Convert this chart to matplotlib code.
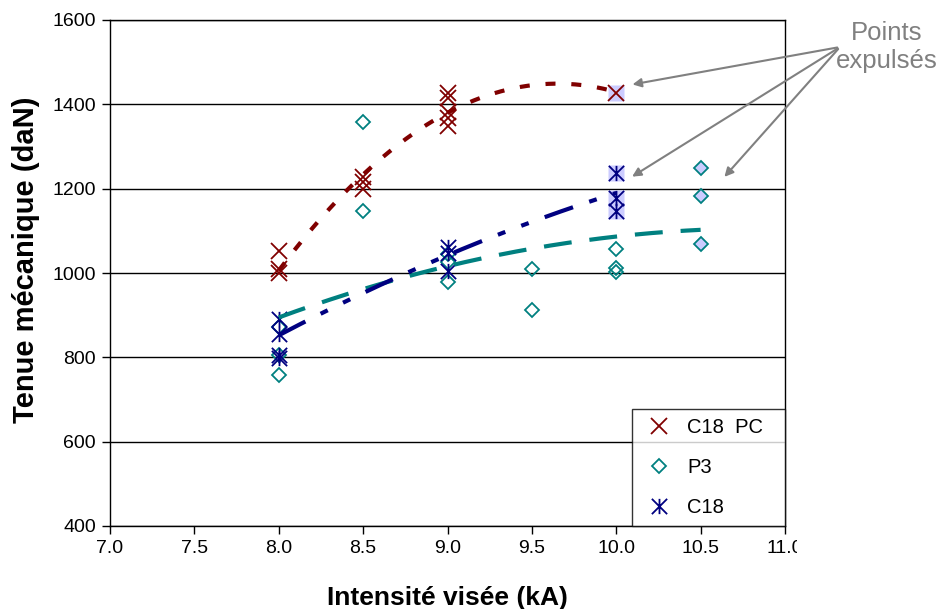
import numpy as np
import matplotlib.pyplot as plt
from matplotlib.path import Path
from matplotlib.transforms import Bbox, TransformedBbox

plt.rcParams['font.family'] = ['Liberation Sans', 'DejaVu Sans']

# C18 PC (croix rouges)
pc_x = [8.0, 8.0, 8.0, 8.5, 8.5, 8.5, 9.0, 9.0, 9.0, 9.0, 9.0]
pc_y = [1053, 1010, 1000, 1228, 1215, 1200, 1426, 1415, 1382, 1368, 1349]
pc_exp_x = [10.0]
pc_exp_y = [1426]

# P3 (losanges)
p3_x = [8.0, 8.0, 8.0, 8.5, 8.5, 9.0, 9.0, 9.0, 9.5, 9.5, 10.0, 10.0, 10.0]
p3_y = [872, 805, 758, 1359, 1147, 1045, 1027, 979, 1009, 912, 1058, 1011, 1003]
p3_exp_x = [10.5, 10.5, 10.5]
p3_exp_y = [1248, 1183, 1069]

# C18 (asterisques)
c18_x = [8.0, 8.0, 8.0, 8.0, 9.0, 9.0, 9.0]
c18_y = [890, 855, 805, 798, 1062, 1048, 1005]
c18_exp_x = [10.0, 10.0, 10.0]
c18_exp_y = [1236, 1177, 1148]

# courbes de tendance
tr_pc_x = [8.0, 8.5, 9.0, 9.5, 10.0]
tr_pc_y = [1005, 1235, 1380, 1444, 1430]
tr_p3_x = [8.0, 8.5, 9.0, 9.5, 10.0, 10.5]
tr_p3_y = [896, 960, 1014, 1060, 1088, 1101]
tr_c18_x = [8.0, 8.5, 9.0, 9.5, 10.0]
tr_c18_y = [853, 950, 1045, 1120, 1190]

red = '#800000'
teal = '#008080'
navy = '#000080'
lav = '#ccccff'

# asterisque : verticale + croix
star = Path([(0, -1), (0, 1), (-1, -1), (1, 1), (-1, 1), (1, -1)],
            [Path.MOVETO, Path.LINETO, Path.MOVETO, Path.LINETO, Path.MOVETO, Path.LINETO])

fig = plt.figure(figsize=(9.42, 6.09), dpi=100)
ax = fig.add_axes([110/942, 83/609, 675/942, 506/609])

# fonds des points expulses
ax.plot(pc_exp_x, pc_exp_y, 's', ms=11.5, mfc=lav, mec='none', zorder=2)
ax.plot(c18_exp_x, c18_exp_y, 's', ms=11.5, mfc=lav, mec='none', zorder=2)

ax.plot(pc_x + pc_exp_x, pc_y + pc_exp_y, 'x', ms=11, mew=1.3, color=red, label='C18  PC', zorder=3)
ax.plot(p3_x, p3_y, 'D', ms=7.5, mfc='none', mec=teal, mew=1.3, label='P3', zorder=3)
ax.plot(p3_exp_x, p3_exp_y, 'D', ms=7.5, mfc=lav, mec=teal, mew=1.3, zorder=3)
ax.plot(c18_x + c18_exp_x, c18_y + c18_exp_y, ls='none', marker=star, ms=11, mew=1.3,
        color=navy, label='C18', zorder=3)

# tendances (polynome d'ordre 2)
for tx, ty, col, dash in [(tr_pc_x, tr_pc_y, red, (2.4, 3.8)),
                          (tr_p3_x, tr_p3_y, teal, (6.7, 4.3)),
                          (tr_c18_x, tr_c18_y, navy, (7.2, 4.1, 1.9, 4.1, 1.9, 4.1))]:
    k = np.polyfit(tx, ty, 2)
    xx = np.linspace(tx[0], tx[-1], 200)
    ax.plot(xx, np.polyval(k, xx), color=col, lw=3, dashes=dash, zorder=4)

ax.set_xlim(7, 11)
ax.set_ylim(400, 1600)
ax.set_xticks(np.arange(7, 11.01, 0.5))
ax.set_xticklabels(['%.1f' % v for v in np.arange(7, 11.01, 0.5)])
ax.set_yticks(range(400, 1601, 200))
ax.yaxis.grid(True, color='black', lw=1)
ax.set_axisbelow(True)
ax.tick_params(direction='out', length=6, width=1, labelsize=14, pad=4)
for s in ax.spines.values():
    s.set_linewidth(1)

ax.set_xlabel('Intensité visée (kA)', fontsize=19, fontweight='bold', labelpad=21)
ax.set_ylabel('Tenue mécanique (daN)', fontsize=21, fontweight='bold')
ax.yaxis.set_label_coords(-0.104, 0.526)

leg = ax.legend(loc='lower left', bbox_to_anchor=(522/675, 0, 153/675, 0.23), mode='expand',
                borderaxespad=0, fontsize=14.5, frameon=True, fancybox=False,
                edgecolor='black', handlelength=1.8, handletextpad=0.5,
                labelspacing=1.05, borderpad=0.45)
leg.get_frame().set_linewidth(1)
leg.set_zorder(6)

# texte et fleches des points expulses
fig.text(887/942, 1 - 47/609, 'Points\nexpulsés', ha='center', va='center',
         fontsize=18.5, color='#808080', linespacing=1.2)
start = (840/942, 1 - 47/609)
for tip in [(10.08, 1446), (10.08, 1225), (10.63, 1223)]:
    ax.annotate('', xy=tip, xycoords='data', xytext=start, textcoords='figure fraction',
                arrowprops=dict(arrowstyle='-|>', color='#808080', lw=1.5, mutation_scale=13),
                annotation_clip=False, zorder=7)

fig.canvas.draw()
last = ax.get_xticklabels()[-1]
last.set_clip_box(TransformedBbox(Bbox([[0, 0], [797/942, 1]]), fig.transFigure))
last.set_clip_on(True)

fig.savefig('out.png', dpi=100)
